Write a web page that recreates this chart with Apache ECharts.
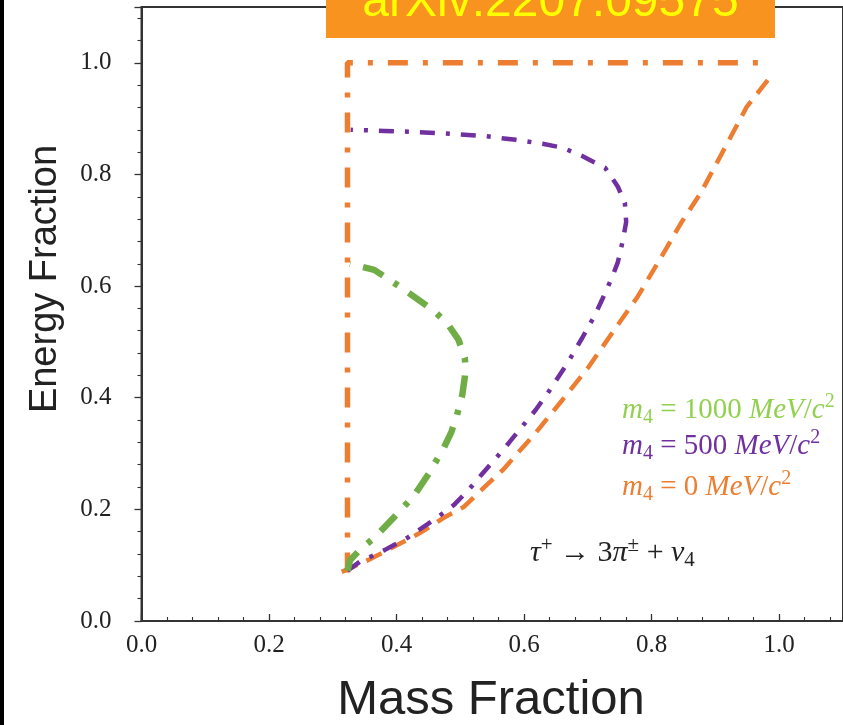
<!DOCTYPE html>
<html><head><meta charset="utf-8">
<script src="https://cdn.jsdelivr.net/npm/echarts@6/dist/echarts.min.js"></script>
<style>html,body{margin:0;padding:0;background:#fff}#c{width:843px;height:725px}</style>
</head><body><div id="c"></div>
<script>
// Boundary for m4 = 0 : vertical/horizontal (dash-dot)
const edge0 = [[0.323, 0.087], [0.323, 1.0], [0.99, 1.0]];
// Boundary for m4 = 0 : lower curve (dashed)
const curve0 = [[0.314,0.088],[0.355,0.109],[0.401,0.136],[0.437,0.158],[0.474,0.185],[0.505,0.204],[0.536,0.238],[0.567,0.271],[0.587,0.297],[0.618,0.337],[0.660,0.396],[0.701,0.455],[0.738,0.516],[0.778,0.581],[0.815,0.652],[0.846,0.713],[0.877,0.767],[0.913,0.844],[0.949,0.921],[0.991,0.982]];
// m4 = 500 MeV
const curve500 = [[0.323,0.09],[0.342,0.106],[0.381,0.127],[0.417,0.149],[0.463,0.185],[0.490,0.208],[0.513,0.235],[0.533,0.262],[0.556,0.292],[0.576,0.319],[0.618,0.378],[0.638,0.410],[0.668,0.462],[0.691,0.507],[0.711,0.548],[0.722,0.575],[0.738,0.616],[0.747,0.643],[0.755,0.683],[0.760,0.715],[0.758,0.749],[0.747,0.778],[0.727,0.812],[0.691,0.833],[0.660,0.848],[0.629,0.855],[0.587,0.862],[0.536,0.869],[0.484,0.873],[0.432,0.876],[0.381,0.878],[0.328,0.880]];
// m4 = 1000 MeV
const curve1000 = [[0.323,0.09],[0.327,0.109],[0.342,0.127],[0.367,0.151],[0.396,0.186],[0.427,0.224],[0.451,0.265],[0.474,0.310],[0.486,0.339],[0.494,0.366],[0.503,0.405],[0.507,0.437],[0.508,0.455],[0.507,0.471],[0.497,0.504],[0.479,0.534],[0.460,0.554],[0.435,0.575],[0.401,0.602],[0.365,0.629],[0.334,0.638],[0.327,0.640]];

const xTickValues = [0.0, 0.2, 0.4, 0.6, 0.8, 1.0];
const yTickValues = [0.0, 0.2, 0.4, 0.6, 0.8, 1.0];

const ORANGE = '#ED7D31', PURPLE = '#7030A0', GREEN = '#70AD47', LGREEN = '#92D050';
const serif = '"Liberation Serif", "DejaVu Serif", serif';
const sans = '"Liberation Sans", Arial, sans-serif';

function mathRich(color, size) {
  return {
    mi: {fontFamily: serif, fontStyle: 'italic', fontSize: size, fill: color},
    n: {fontFamily: serif, fontSize: size, fill: color},
    sub: {fontFamily: serif, fontSize: Math.round(size*0.7), fill: color, verticalAlign: 'bottom'},
    sup: {fontFamily: serif, fontSize: Math.round(size*0.7), fill: color, verticalAlign: 'top'}
  };
}

const chart = echarts.init(document.getElementById('c'), null, {renderer: 'canvas'});
const option = {
  animation: false,
  backgroundColor: '#fff',
  grid: {left: 141.5, top: 7, width: 709, height: 614, show: true, borderColor: '#333', borderWidth: 2, backgroundColor: 'transparent'},
  xAxis: {
    type: 'value', min: 0, max: 1.1, interval: 0.2,
    axisLine: {onZero: false, lineStyle: {color: '#333', width: 2}},
    axisTick: {inside: true, length: 7, lineStyle: {color: '#333', width: 1.3}},
    minorTick: {show: true, splitNumber: 5, length: 4, lineStyle: {color: '#333', width: 1.1}},
    splitLine: {show: false},
    axisLabel: {showMaxLabel: false, margin: 12, fontFamily: serif, fontSize: 25, color: '#222',
      formatter: v => xTickValues.some(t => Math.abs(t - v) < 1e-6) ? v.toFixed(1) : ''}
  },
  yAxis: {
    type: 'value', min: 0, max: 1.1, interval: 0.2,
    axisLine: {onZero: false, lineStyle: {color: '#333', width: 2}},
    axisTick: {inside: false, length: 7, lineStyle: {color: '#333', width: 1.3}},
    minorTick: {show: true, splitNumber: 5, length: 4, lineStyle: {color: '#333', width: 1.1}},
    splitLine: {show: false},
    axisLabel: {showMaxLabel: false, margin: 30, fontFamily: serif, fontSize: 25, color: '#222',
      formatter: v => yTickValues.some(t => Math.abs(t - v) < 1e-6) ? v.toFixed(1) : ''}
  },
  series: [
    {type: 'line', data: edge0, showSymbol: false, z: 2,
      lineStyle: {color: ORANGE, width: 5.5, type: [20, 15, 5, 15], cap: 'butt'}},
    {type: 'line', data: curve0, showSymbol: false, z: 2,
      lineStyle: {color: ORANGE, width: 4.5, type: [17, 10], cap: 'butt'}},
    {type: 'line', data: curve500, showSymbol: false, z: 3,
      lineStyle: {color: PURPLE, width: 4.5, type: [15, 11, 4, 11], cap: 'butt'}},
    {type: 'line', data: curve1000, showSymbol: false, z: 3,
      lineStyle: {color: GREEN, width: 6.5, type: [22, 13, 5, 13], cap: 'butt'}}
  ],
  graphic: [
    {type: 'rect', left: 0, top: 0, shape: {width: 4, height: 725}, style: {fill: '#000'}, z: 100},
    {type: 'rect', shape: {x: 326, y: 0, width: 449, height: 38}, style: {fill: '#F7931E'}, z: 100},
    {type: 'text', x: 550.5, y: 27, z: 101, style: {text: 'arXiv:2207.09575', font: '48px ' + sans, fill: '#FFFF00', align: 'center', verticalAlign: 'bottom'}},
    {type: 'text', x: 491, y: 700, z: 100, style: {text: 'Mass Fraction', font: '49px ' + sans, fill: '#222', align: 'center', verticalAlign: 'middle'}},
    {type: 'text', x: 46, y: 279, rotation: Math.PI/2, z: 100, style: {text: 'Energy Fraction', font: '38px ' + sans, fill: '#222', align: 'center', verticalAlign: 'middle'}},
    {type: 'text', x: 622, y: 410, z: 100, style: {text: '{mi|m}{sub|4}{n| = 1000 }{mi|MeV}{n|/}{mi|c}{sup|2}', rich: mathRich(LGREEN, 29), verticalAlign: 'middle', align: 'left', lineHeight: 36}},
    {type: 'text', x: 622, y: 446, z: 100, style: {text: '{mi|m}{sub|4}{n| = 500 }{mi|MeV}{n|/}{mi|c}{sup|2}', rich: mathRich(PURPLE, 29), verticalAlign: 'middle', align: 'left', lineHeight: 36}},
    {type: 'text', x: 622, y: 487, z: 100, style: {text: '{mi|m}{sub|4}{n| = 0 }{mi|MeV}{n|/}{mi|c}{sup|2}', rich: mathRich(ORANGE, 29), verticalAlign: 'middle', align: 'left', lineHeight: 36}},
    {type: 'text', x: 530, y: 553, z: 100, style: {text: '{mi|τ}{sup|+}{n| → 3}{mi|π}{sup|±}{n| + }{mi|ν}{sub|4}', rich: mathRich('#222', 30), verticalAlign: 'middle', align: 'left', lineHeight: 36}}
  ]
};
chart.setOption(option);
</script>
</body></html>
